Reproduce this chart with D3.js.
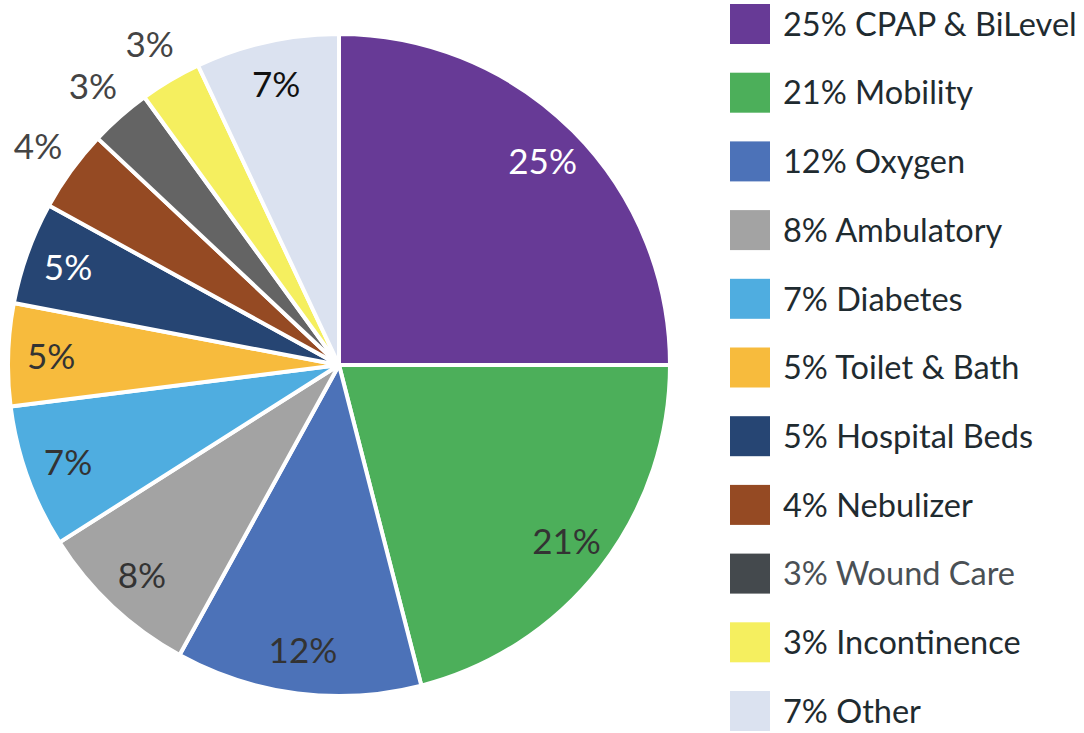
<!DOCTYPE html>
<html><head><meta charset="utf-8">
<script src="https://cdn.jsdelivr.net/npm/d3@7"></script>
<style>body{margin:0;background:#fff;}svg{display:block;}</style>
</head><body>
<svg id="chart" width="1084" height="733"></svg>
<script>
const categories = ["CPAP & BiLevel","Mobility","Oxygen","Ambulatory","Diabetes","Toilet & Bath","Hospital Beds","Nebulizer","Wound Care","Incontinence","Other"];
const values = [25,21,12,8,7,5,5,4,3,3,7];
const sliceColors = ["#673a96","#4caf5a","#4c72b8","#a3a3a3","#4fade0","#f7bb3d","#264573","#954a23","#646464","#f5ef5f","#dbe2f0"];
const legendColors = ["#673a96","#4caf5a","#4c72b8","#a3a3a3","#4fade0","#f7bb3d","#264573","#954a23","#44494d","#f5ef5f","#dbe2f0"];
const labelColors = ["#ffffff","#333333","#333333","#333333","#333333","#333333","#ffffff","#444444","#444444","#444444","#111111"];
const labelOutside = [false,false,false,false,false,false,false,true,true,true,false];
const legendTextColors = ["#1f2b30","#1f2b30","#1f2b30","#1f2b30","#1f2b30","#1f2b30","#1f2b30","#1f2b30","#4a5055","#1f2b30","#1f2b30"];

const svg = d3.select("#chart");
const cx = 339, cy = 365, R = 331;
const font = "Lato, 'Open Sans', sans-serif";

const data = categories.map((c,i)=>({name:c, value:values[i], i}));
const pie = d3.pie().value(d=>d.value).sort(null);
const arcs = pie(data);
const arc = d3.arc().innerRadius(0).outerRadius(R);
const inLabel = d3.arc().innerRadius(288).outerRadius(288);
const outLabel = d3.arc().innerRadius(372).outerRadius(372);

const g = svg.append("g").attr("transform",`translate(${cx},${cy})`);
g.selectAll("path").data(arcs).join("path")
  .attr("d",arc)
  .attr("fill",d=>sliceColors[d.data.i])
  .attr("stroke","#fff").attr("stroke-width",4).attr("stroke-linejoin","round");

g.selectAll("text.lbl").data(arcs).join("text").attr("class","lbl")
  .attr("transform",d=>{const p=(labelOutside[d.data.i]?outLabel:inLabel).centroid(d);return `translate(${p[0]},${p[1]})`;})
  .attr("text-anchor","middle").attr("dy","0.36em")
  .attr("font-family",font).attr("font-size",35)
  .attr("fill",d=>labelColors[d.data.i])
  .text(d=>d.data.value+"%");

const legend = svg.append("g").attr("transform","translate(730,0)");
const y = d3.scalePoint().domain(categories).range([24,711]);
const row = legend.selectAll("g").data(data).join("g")
  .attr("transform",d=>`translate(0,${y(d.name)})`);
row.append("rect").attr("x",0).attr("y",-20).attr("width",40).attr("height",40)
  .attr("fill",d=>legendColors[d.i]);
row.append("text").attr("x",53).attr("dy","0.36em")
  .attr("font-family",font).attr("font-size",32.5)
  .attr("fill",d=>legendTextColors[d.i])
  .text(d=>d.value+"% "+d.name);
</script>
</body></html>
